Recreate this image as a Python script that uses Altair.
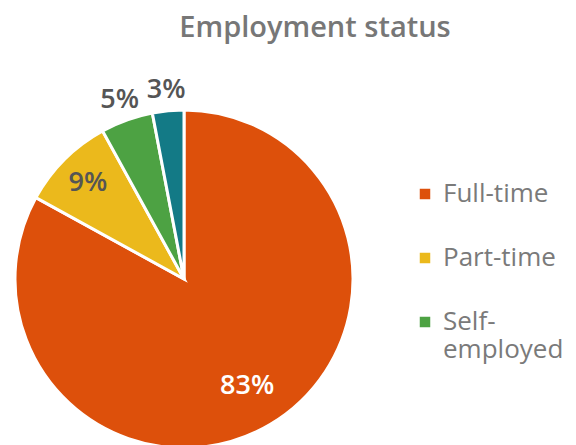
import altair as alt
import pandas as pd

categories = ["Full-time", "Part-time", "Self-employed", "Other"]
values = [83, 9, 5, 3]
labels = ["83%", "9%", "5%", "3%"]
colors = ["#DD500B", "#EBB91C", "#4DA243", "#137A86"]
legend_items = ["Full-time", "Part-time", "Self-employed"]

df = pd.DataFrame({"category": categories, "value": values, "label": labels,
                   "order": list(range(len(categories)))})

CX, CY, R = 176, 271, 169

color = alt.Color(
    "category:N",
    scale=alt.Scale(domain=categories, range=colors),
    legend=alt.Legend(
        title=None,
        values=legend_items,
        orient="none",
        legendX=404,
        legendY=173,
        symbolType="square",
        symbolSize=110,
        symbolStrokeWidth=0,
        labelFont="Open Sans",
        labelFontSize=26,
        labelColor="#7a7a7a",
        labelLimit=200,
        rowPadding=38,
        labelOffset=5,
        labelExpr="datum.label == 'Self-employed' ? ['Self-', 'employed'] : datum.label",
    ),
)

pie = alt.Chart(df).mark_arc(x=CX, y=CY, outerRadius=R, stroke="white", strokeWidth=3).encode(
    theta=alt.Theta("value:Q", stack=True),
    order=alt.Order("order:Q"),
    color=color,
)

text = alt.Chart(df).transform_window(
    cum="sum(value)", sort=[alt.SortField("order")], frame=[None, 0]
).transform_joinaggregate(
    total="sum(value)"
).transform_calculate(
    ang="(datum.cum - datum.value / 2) / datum.total * 2 * PI",
    r="datum.value > 50 ? 124 : (datum.value > 6 ? 136 : 190)",
).mark_text(x=CX, y=CY, font="Open Sans", fontSize=27, fontWeight=600).encode(
    text="label:N",
    theta=alt.Theta("ang:Q", scale=None),
    radius=alt.Radius("r:Q", scale=None),
    color=alt.condition("datum.value > 50", alt.value("white"), alt.value("#555555")),
)

title = alt.Chart(pd.DataFrame({"t": ["Employment status"]})).mark_text(
    x=307, y=20, font="Open Sans", fontSize=29, fontWeight=600, color="#777777",
    align="center", baseline="middle",
).encode(text="t:N")

chart = alt.layer(pie, text, title).properties(
    width=560, height=437, padding=0, autosize=alt.AutoSizeParams(type="none")
).configure_view(stroke=None)

chart.save("out.html", embed_options={"renderer": "svg", "actions": False})
